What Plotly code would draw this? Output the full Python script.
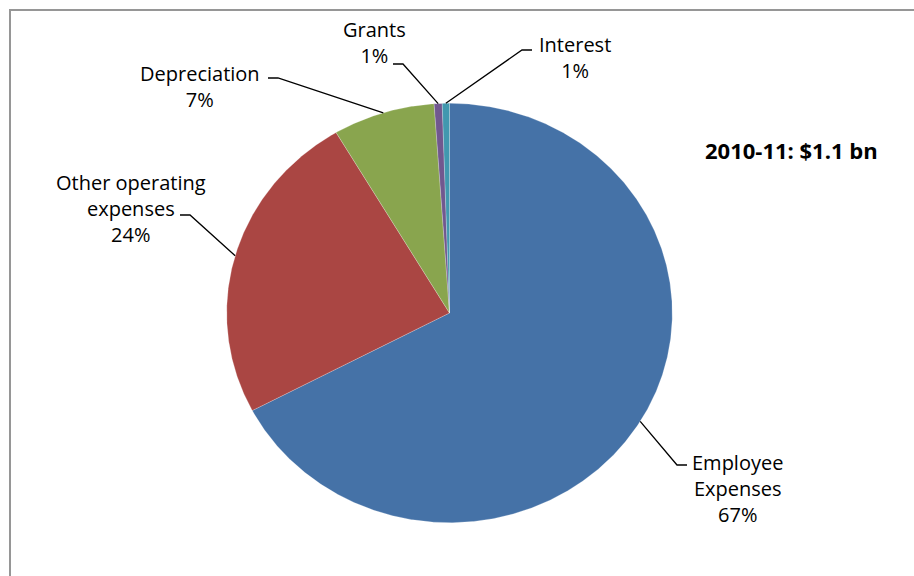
import numpy as np
import plotly.graph_objects as go

# Expense shares (%), clockwise from 12 o'clock
categories = ["Employee Expenses", "Other operating expenses", "Depreciation", "Grants", "Interest"]
shares = [67.3, 24.2, 7.4, 0.58, 0.52]
colors = ["#4572A7", "#AA4643", "#89A54E", "#71588F", "#4198AF"]
label_lines = [["Employee", "Expenses"], ["Other operating", "expenses"],
               ["Depreciation"], ["Grants"], ["Interest"]]
headline = "2010-11: $1.1 bn"

W, H = 914, 576
# pie ellipse geometry (pixel axes)
CX, CY, RX, RY = 449.5, 313.0, 222.8, 209.7

# label block centres, leader elbows and leader ends
label_pos = [(737, 488.5), (130.5, 208.5), (200, 86.5), (374.5, 42.5), (574.5, 57.5)]
leader_elbow = [(677, 465), (190, 215), (278, 78), (403, 64), (522, 50)]
leader_end = [(687, 465), (180, 215), (268, 78), (393, 64), (532, 50)]

FONT = "Open Sans"


def ellipse_pt(theta_deg):
    t = np.radians(theta_deg)
    return CX + RX * np.sin(t), CY - RY * np.cos(t)


total = float(sum(shares))
fig = go.Figure()

start = 0.0
mids = []
for name, s, c in zip(categories, shares, colors):
    span = s / total * 360.0
    n = max(3, int(span * 3))
    th = np.linspace(start, start + span, n)
    ex, ey = ellipse_pt(th)
    xs = np.concatenate([[CX], ex, [CX]])
    ys = np.concatenate([[CY], ey, [CY]])
    fig.add_trace(go.Scatter(
        x=xs, y=ys, mode="lines", fill="toself", fillcolor=c,
        line=dict(color="rgba(255,255,255,0.45)", width=0.5),
        name=name, hoverinfo="name", showlegend=False))
    mids.append(start + span / 2)
    start += span

# leader lines from each slice's mid-arc to its label
for m, elb, end in zip(mids, leader_elbow, leader_end):
    px, py = ellipse_pt(m)
    fig.add_trace(go.Scatter(
        x=[px, elb[0], end[0]], y=[py, elb[1], end[1]], mode="lines",
        line=dict(color="#000000", width=1.3), hoverinfo="skip", showlegend=False))

annotations = []
for lines, s, (lx, ly) in zip(label_lines, shares, label_pos):
    pct = int(np.floor(s / total * 100 + 0.5))
    txt = "<br>".join(lines + [f"{pct}%"])
    annotations.append(dict(
        x=lx, y=ly, xref="x", yref="y", text=txt, showarrow=False,
        xanchor="center", yanchor="middle", align="center",
        font=dict(family=FONT, size=20, color="#000000")))

annotations.append(dict(
    x=791.5, y=149.5, xref="x", yref="y", text=f"<b>{headline}</b>", showarrow=False,
    xanchor="center", yanchor="middle",
    font=dict(family=FONT, size=22, color="#000000")))

fig.update_layout(
    width=W, height=H,
    margin=dict(l=0, r=0, t=0, b=0),
    paper_bgcolor="#FFFFFF", plot_bgcolor="#FFFFFF",
    xaxis=dict(range=[0, W], visible=False, fixedrange=True),
    yaxis=dict(range=[H, 0], visible=False, fixedrange=True),
    annotations=annotations,
    shapes=[dict(type="rect", xref="x", yref="y", x0=10, y0=10, x1=W + 20, y1=H + 20,
                 line=dict(color="#969696", width=2), layer="below")],
)

fig.write_html("out.html")
